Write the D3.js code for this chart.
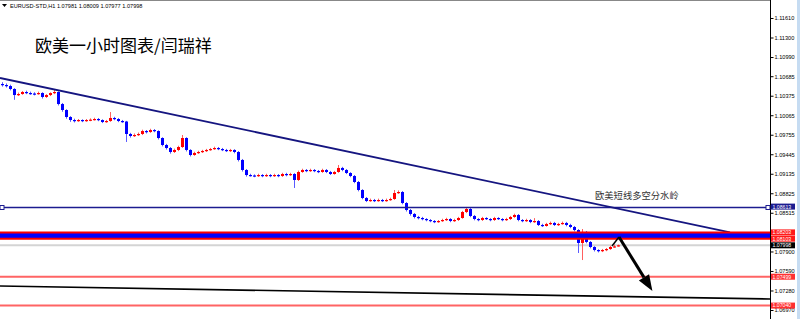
<!DOCTYPE html>
<html>
<head>
<meta charset="utf-8">
<script src="https://cdn.jsdelivr.net/npm/d3@7"></script>
<style>
  body { margin: 0; background: #fff; }
  svg { display: block; }
</style>
</head>
<body>
<svg class="chart" width="800" height="319"></svg>
<script>
// EURUSD H1 candles (opens = previous close)
var firstOpen = 1.10561;
var closes = [1.10545,1.10529,1.10482,1.10386,1.10402,1.10434,1.10418,1.10410,1.10402,1.10418,
  1.10355,1.10386,1.10418,1.10434,1.10243,1.10148,1.10037,1.09989,1.09973,1.09989,
  1.09973,1.09989,1.09995,1.10005,1.09989,1.09957,1.09973,1.10021,1.10005,1.09973,
  1.09965,1.09767,1.09735,1.09751,1.09767,1.09814,1.09798,1.09830,1.09814,1.09703,
  1.09592,1.09544,1.09481,1.09513,1.09560,1.09703,1.09513,1.09433,1.09465,1.09481,
  1.09497,1.09513,1.09528,1.09544,1.09528,1.09513,1.09497,1.09513,1.09481,1.09354,
  1.09195,1.09115,1.09108,1.09099,1.09115,1.09099,1.09115,1.09099,1.09115,1.09099,
  1.09131,1.09115,1.09131,1.09036,1.09163,1.09195,1.09179,1.09195,1.09179,1.09163,
  1.09195,1.09163,1.09131,1.09163,1.09227,1.09195,1.09147,1.09099,1.09004,1.08877,
  1.08750,1.08702,1.08718,1.08702,1.08718,1.08702,1.08718,1.08734,1.08829,1.08845,
  1.08670,1.08559,1.08496,1.08448,1.08432,1.08416,1.08400,1.08384,1.08368,1.08384,
  1.08400,1.08416,1.08384,1.08400,1.08432,1.08527,1.08575,1.08464,1.08416,1.08400,
  1.08432,1.08416,1.08400,1.08432,1.08416,1.08400,1.08416,1.08448,1.08480,1.08400,
  1.08384,1.08400,1.08368,1.08384,1.08321,1.08305,1.08337,1.08353,1.08321,1.08337,
  1.08353,1.08321,1.08289,1.08241,1.08035,1.08210,1.08051,1.07971,1.07923,1.07907,
  1.07923,1.07939,1.07971,1.07981,1.07998];
var highs = [1.10590,1.10570,1.10550,1.10495,1.10425,1.10450,1.10455,1.10440,1.10430,1.10440,
  1.10430,1.10400,1.10430,1.10466,1.10445,1.10260,1.10160,1.10050,1.10010,1.10005,
  1.10000,1.10005,1.10015,1.10025,1.10020,1.10000,1.09990,1.10116,1.10040,1.10020,
  1.09990,1.09975,1.09785,1.09775,1.09790,1.09835,1.09830,1.09850,1.09845,1.09825,
  1.09715,1.09610,1.09560,1.09535,1.09580,1.09751,1.09715,1.09525,1.09485,1.09500,
  1.09515,1.09530,1.09545,1.09565,1.09560,1.09545,1.09530,1.09530,1.09525,1.09495,
  1.09370,1.09210,1.09135,1.09125,1.09135,1.09130,1.09135,1.09130,1.09135,1.09130,
  1.09150,1.09150,1.09150,1.09145,1.09185,1.09215,1.09210,1.09215,1.09210,1.09195,
  1.09215,1.09210,1.09180,1.09180,1.09274,1.09245,1.09210,1.09160,1.09115,1.09020,
  1.08890,1.08765,1.08740,1.08735,1.08740,1.08735,1.08740,1.08755,1.08877,1.08870,
  1.08860,1.08685,1.08575,1.08510,1.08465,1.08450,1.08430,1.08415,1.08400,1.08400,
  1.08420,1.08435,1.08430,1.08420,1.08450,1.08545,1.08607,1.08590,1.08480,1.08430,
  1.08450,1.08445,1.08430,1.08450,1.08445,1.08430,1.08435,1.08465,1.08500,1.08495,
  1.08415,1.08420,1.08415,1.08430,1.08400,1.08340,1.08355,1.08375,1.08370,1.08355,
  1.08375,1.08370,1.08340,1.08305,1.08255,1.08257,1.08225,1.08065,1.07985,1.07935,
  1.07940,1.07955,1.07990,1.08009,1.08009];
var lows = [1.10520,1.10505,1.10460,1.10310,1.10370,1.10390,1.10400,1.10390,1.10380,1.10390,
  1.10330,1.10340,1.10370,1.10400,1.10220,1.10120,1.10010,1.09960,1.09950,1.09960,
  1.09955,1.09960,1.09970,1.09980,1.09970,1.09940,1.09945,1.09960,1.09985,1.09955,
  1.09945,1.09640,1.09710,1.09720,1.09735,1.09750,1.09775,1.09785,1.09795,1.09680,
  1.09570,1.09520,1.09455,1.09465,1.09495,1.09545,1.09490,1.09410,1.09420,1.09450,
  1.09465,1.09480,1.09500,1.09515,1.09510,1.09495,1.09480,1.09480,1.09460,1.09330,
  1.09170,1.09090,1.09090,1.09080,1.09085,1.09080,1.09085,1.09080,1.09085,1.09080,
  1.09085,1.09095,1.09100,1.08909,1.09020,1.09150,1.09160,1.09165,1.09160,1.09145,
  1.09150,1.09145,1.09115,1.09120,1.09150,1.09175,1.09130,1.09080,1.08985,1.08855,
  1.08730,1.08685,1.08690,1.08685,1.08690,1.08685,1.08690,1.08705,1.08720,1.08815,
  1.08650,1.08535,1.08470,1.08425,1.08410,1.08395,1.08380,1.08365,1.08350,1.08355,
  1.08370,1.08385,1.08365,1.08370,1.08385,1.08420,1.08510,1.08445,1.08395,1.08380,
  1.08385,1.08400,1.08380,1.08385,1.08400,1.08380,1.08385,1.08400,1.08435,1.08380,
  1.08365,1.08370,1.08350,1.08355,1.08305,1.08290,1.08295,1.08320,1.08305,1.08305,
  1.08325,1.08300,1.08270,1.08220,1.07876,1.07764,1.08030,1.07950,1.07900,1.07885,
  1.07890,1.07905,1.07925,1.07960,1.07977];

// 1.08205 sits under the level labels, so it is left out
var tickValues = [1.11610,1.11300,1.10990,1.10685,1.10375,1.10065,1.09755,1.09445,1.09135,
  1.08825,1.08515,1.07900,1.07590,1.07280,1.06970];

var dividerLevel = 1.08613;
var zoneTop = 1.08203, zoneBottom = 1.08103;
var lastPrice = 1.07998;
var targetLevels = [1.07499, 1.07040];

// [bar index, price]
var trendLine = [[-0.5, 1.10657], [182, 1.08203]];
var channelLine = [[-0.5, 1.07351], [192, 1.07145]];
var arrowPts = [[152.5, 1.07987], [154.25, 1.08130], [162.6, 1.07272]];

var header = 'EURUSD-STD,H1  1.07981 1.08009 1.07977 1.07998';
var title = '欧美一小时图表/闫瑞祥';
var note = '欧美短线多空分水岭';

var candles = closes.map(function(c, i){
    return { o: i === 0 ? firstOpen : closes[i-1], h: highs[i], l: lows[i], c: c };
});

var W = 800, H = 319, plotRight = 770;
var x = d3.scaleLinear().domain([-0.5, 192]).range([0, plotRight]);
var y = d3.scaleLinear().domain([1.06827, 1.11896]).range([H, 0]);

var svg = d3.select('.chart');
var font = '"Liberation Sans", Arial, sans-serif';

// current price line
svg.append('line')
    .attr('x1', 0).attr('x2', plotRight)
    .attr('y1', y(lastPrice)).attr('y2', y(lastPrice))
    .style('stroke', '#d4d4d4').style('stroke-width', 2);

// candles
var bars = svg.append('g').selectAll('g')
    .data(candles)
    .enter()
    .append('g');
bars.append('line')
    .attr('x1', function(d, i){ return Math.round(x(i)) + 0.5; })
    .attr('x2', function(d, i){ return Math.round(x(i)) + 0.5; })
    .attr('y1', function(d){ return y(d.h); })
    .attr('y2', function(d){ return y(d.l); })
    .style('stroke', function(d){ return d.c < d.o ? '#5a5aff' : '#ff6060'; })
    .style('stroke-width', 1);
bars.append('rect')
    .attr('x', function(d, i){ return Math.round(x(i)) - 1; })
    .attr('width', 3)
    .attr('y', function(d){ return y(Math.max(d.o, d.c)); })
    .attr('height', function(d){ return Math.max(1.2, Math.abs(y(d.o) - y(d.c))); })
    .style('fill', function(d){ return d.c < d.o ? '#0000ff' : '#ff0000'; });

// divider level
svg.append('line')
    .attr('x1', 0).attr('x2', plotRight)
    .attr('y1', Math.round(y(dividerLevel)) + 0.5).attr('y2', Math.round(y(dividerLevel)) + 0.5)
    .style('stroke', '#1c1c90').style('stroke-width', 1.3);
svg.append('rect')
    .attr('x', 0).attr('y', Math.round(y(dividerLevel)) - 1.5)
    .attr('width', 4).attr('height', 4)
    .style('fill', '#fff').style('stroke', '#1c1c90').style('stroke-width', 1);

// trend line
var line = d3.line()
    .x(function(d){ return x(d[0]); })
    .y(function(d){ return y(d[1]); });
svg.append('path')
    .attr('d', line(trendLine))
    .style('fill', 'none').style('stroke', '#151580').style('stroke-width', 1.8);

// blue zone with red edges
svg.append('rect')
    .attr('x', 0).attr('width', plotRight)
    .attr('y', y(zoneTop)).attr('height', y(zoneBottom) - y(zoneTop))
    .style('fill', '#0000ff');
[zoneTop, zoneBottom].forEach(function(p){
    svg.append('line')
        .attr('x1', 0).attr('x2', plotRight)
        .attr('y1', y(p)).attr('y2', y(p))
        .style('stroke', '#ff0000').style('stroke-width', 2);
});

// targets
svg.selectAll('.target')
    .data(targetLevels)
    .enter()
    .append('line')
    .attr('class', 'target')
    .attr('x1', 0).attr('x2', plotRight)
    .attr('y1', function(d){ return y(d); })
    .attr('y2', function(d){ return y(d); })
    .style('stroke', '#ff6464').style('stroke-width', 2);

// lower channel line
svg.append('path')
    .attr('d', line(channelLine))
    .style('fill', 'none').style('stroke', '#000').style('stroke-width', 1.6);

// arrow
var a0 = [x(arrowPts[0][0]), y(arrowPts[0][1])];
var a1 = [x(arrowPts[1][0]), y(arrowPts[1][1])];
var a2 = [x(arrowPts[2][0]), y(arrowPts[2][1])];
var dx = a2[0] - a1[0], dy = a2[1] - a1[1];
var len = Math.sqrt(dx * dx + dy * dy);
var ux = dx / len, uy = dy / len;
var headLen = 16, headHalf = 6;
var base = [a2[0] - ux * headLen, a2[1] - uy * headLen];
svg.append('path')
    .attr('d', 'M' + a0 + 'L' + a1)
    .style('fill', 'none').style('stroke', '#000').style('stroke-width', 1.5);
svg.append('path')
    .attr('d', 'M' + a1 + 'L' + base)
    .style('fill', 'none').style('stroke', '#000').style('stroke-width', 3);
svg.append('path')
    .attr('d', 'M' + a2 + 'L' + [base[0] - uy * headHalf, base[1] + ux * headHalf] +
        'L' + [base[0] + uy * headHalf, base[1] - ux * headHalf] + 'Z')
    .style('fill', '#000');

// texts
svg.append('path')
    .attr('d', 'M2,4L7,4L4.5,7Z')
    .style('fill', '#000');
svg.append('text')
    .attr('x', 10).attr('y', 8)
    .style('font-family', font).style('font-size', '5.6px').style('fill', '#000')
    .text(header);
svg.append('text')
    .attr('x', 35).attr('y', 52)
    .style('font-family', '"Noto Sans CJK SC", sans-serif').style('font-size', '17px').style('fill', '#000')
    .text(title);
svg.append('text')
    .attr('x', 595).attr('y', 199)
    .style('font-family', '"Noto Sans CJK SC", sans-serif').style('font-size', '9.3px').style('fill', '#333')
    .text(note);

// right axis
svg.append('rect')
    .attr('x', plotRight).attr('y', 0).attr('width', W - plotRight).attr('height', H)
    .style('fill', '#fff');
svg.append('rect')
    .attr('x', 797).attr('y', 0).attr('width', 3).attr('height', H)
    .style('fill', '#c6dcf2');
svg.append('line')
    .attr('x1', 0).attr('x2', plotRight).attr('y1', 0.5).attr('y2', 0.5)
    .style('stroke', '#888');

var axis = d3.axisRight(y)
    .tickValues(tickValues)
    .tickSize(3)
    .tickFormat(d3.format('.5f'));
var gAxis = svg.append('g')
    .attr('transform', 'translate(' + (plotRight + 0.5) + ',0)')
    .call(axis);
gAxis.select('.domain').attr('d', 'M0,0V' + H).style('stroke', '#000');
gAxis.selectAll('.tick line').style('stroke', '#000');
gAxis.selectAll('.tick text')
    .attr('x', 4)
    .style('font-family', font).style('font-size', '5.6px').style('fill', '#000');

// price labels
var labels = [
    { p: dividerLevel, bg: '#1c1c90' },
    { p: zoneTop, bg: '#ff1a1a' },
    { p: zoneBottom, bg: '#ff1a1a' },
    { p: lastPrice, bg: '#000' },
    { p: targetLevels[0], bg: '#ff3030' },
    { p: targetLevels[1], bg: '#ff3030' }
];
var lab = svg.selectAll('.plabel')
    .data(labels)
    .enter()
    .append('g')
    .attr('class', 'plabel');
lab.append('rect')
    .attr('x', plotRight + 1).attr('width', 24)
    .attr('y', function(d){ return y(d.p) - 3; })
    .attr('height', 6)
    .style('fill', function(d){ return d.bg; });
lab.append('text')
    .attr('x', plotRight + 2.5)
    .attr('y', function(d){ return y(d.p) + 1.9; })
    .style('font-family', font).style('font-size', '5.2px').style('fill', '#fff')
    .text(function(d){ return d3.format('.5f')(d.p); });
svg.append('rect')
    .attr('x', plotRight - 4).attr('y', Math.round(y(dividerLevel)) - 1.5)
    .attr('width', 4).attr('height', 4)
    .style('fill', '#fff').style('stroke', '#1c1c90').style('stroke-width', 1);
</script>
</body>
</html>
